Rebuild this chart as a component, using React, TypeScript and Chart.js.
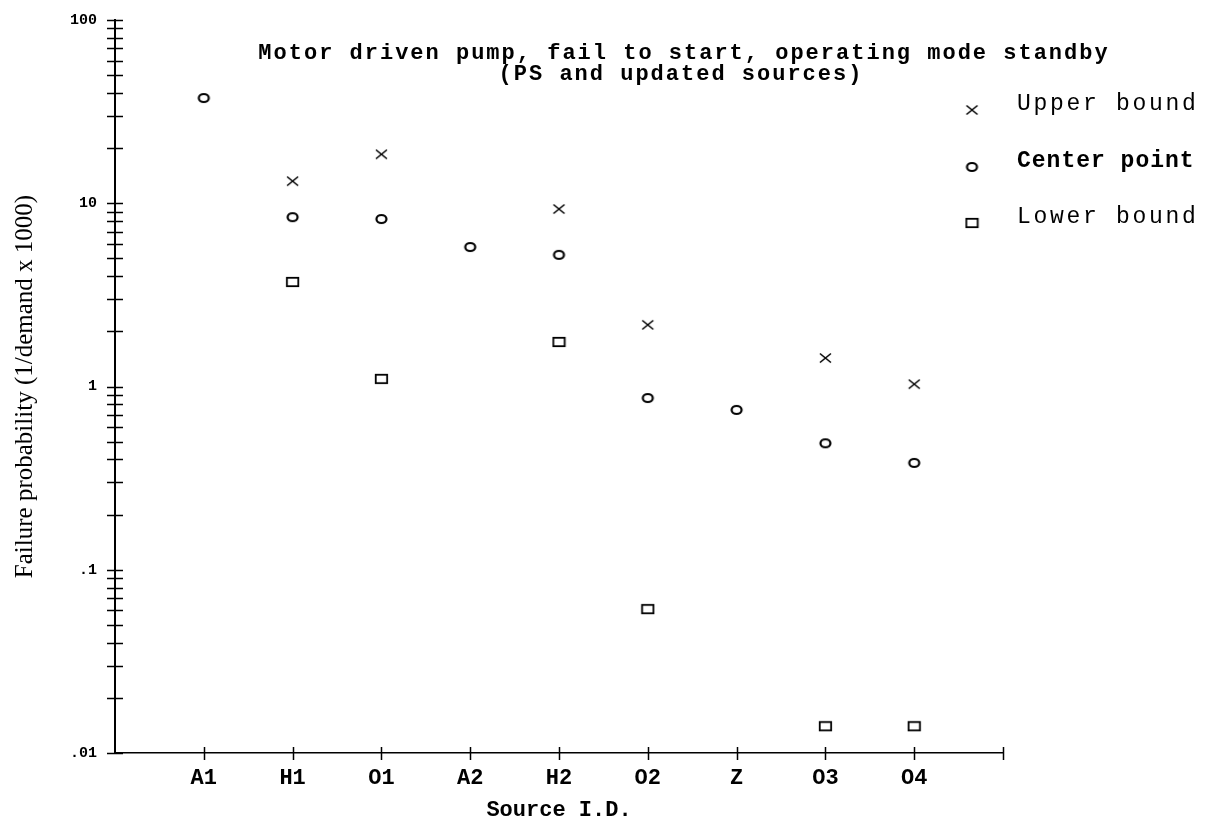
import React, { useEffect, useRef } from 'react';
import { Chart, registerables } from 'chart.js';

Chart.register(...registerables);

// ---- data ----
const categories = ['A1', 'H1', 'O1', 'A2', 'H2', 'O2', 'Z', 'O3', 'O4'];
const upperBound: (number | null)[] = [null, 13.2, 18.5, null, 9.3, 2.17, null, 1.43, 1.03];
const centerPoint: (number | null)[] = [37.5, 8.4, 8.2, 5.77, 5.23, 0.865, 0.745, 0.49, 0.383];
const lowerBound: (number | null)[] = [null, 3.72, 1.1, null, 1.75, 0.061, null, 0.014, 0.014];
const yMajorLabels = ['.01', '.1', '1', '10', '100'];
const seriesLabels = ['Upper bound', 'Center point', 'Lower bound'];
const titleLines = [
  'Motor driven pump, fail to start, operating mode standby',
  '(PS and updated sources)',
];
const yAxisTitle = 'Failure probability (1/demand x 1000)';
const xAxisTitle = 'Source I.D.';

const MONO = '"Liberation Mono", "DejaVu Sans Mono", monospace';
const SERIF = '"Liberation Serif", "DejaVu Serif", serif';

function toPoints(values: (number | null)[]) {
  return values
    .map((v, i) => ({ x: i + 1, y: v }))
    .filter((p) => p.y !== null) as { x: number; y: number }[];
}

function makeMarker(kind: string): HTMLCanvasElement {
  const c = document.createElement('canvas');
  c.width = 15;
  c.height = 12;
  const g = c.getContext('2d')!;
  g.strokeStyle = '#000';
  if (kind === 'cross') {
    g.lineWidth = 1.6;
    g.beginPath();
    g.moveTo(2, 1.5);
    g.lineTo(13, 10.5);
    g.moveTo(13, 1.5);
    g.lineTo(2, 10.5);
    g.stroke();
  } else if (kind === 'circle') {
    g.lineWidth = 2.2;
    g.beginPath();
    g.ellipse(7.5, 6, 5, 4, 0, 0, Math.PI * 2);
    g.stroke();
  } else {
    g.lineWidth = 1.8;
    g.strokeRect(1.8, 1.8, 11.4, 8.4);
  }
  return c;
}

export default function App() {
  const canvasRef = useRef<HTMLCanvasElement | null>(null);

  useEffect(() => {
    if (!canvasRef.current) return;
    const markers = [makeMarker('cross'), makeMarker('circle'), makeMarker('rect')];

    const crossTicks = {
      id: 'crossTicks',
      afterDraw(chart: any) {
        const { ctx, chartArea } = chart;
        const ys = chart.scales.y;
        const xs = chart.scales.x;
        ctx.save();
        ctx.strokeStyle = '#000';
        ctx.lineWidth = 1.5;
        ctx.beginPath();
        ys.ticks.forEach((t: any) => {
          const py = Math.round(ys.getPixelForValue(t.value)) + 0.5;
          ctx.moveTo(chartArea.left - 8, py);
          ctx.lineTo(chartArea.left + 8, py);
        });
        xs.ticks.forEach((t: any) => {
          const px = Math.round(xs.getPixelForValue(t.value)) + 0.5;
          ctx.moveTo(px, chartArea.bottom - 6);
          ctx.lineTo(px, chartArea.bottom + 7);
        });
        ctx.stroke();
        ctx.restore();
      },
    };

    const titlePlugin = {
      id: 'insideTitle',
      afterDraw(chart: any) {
        const { ctx } = chart;
        ctx.save();
        ctx.fillStyle = '#000';
        ctx.font = `bold 22px ${MONO}`;
        (ctx as any).letterSpacing = '2px';
        ctx.textAlign = 'center';
        ctx.textBaseline = 'alphabetic';
        ctx.fillText(titleLines[0], 684, 59);
        ctx.fillText(titleLines[1], 681, 80);
        ctx.restore();
      },
    };

    const legendPlugin = {
      id: 'sideLegend',
      afterDraw(chart: any) {
        const { ctx } = chart;
        ctx.save();
        ctx.fillStyle = '#000';
        ctx.textAlign = 'left';
        ctx.textBaseline = 'alphabetic';
        const baselines = [110, 167, 223];
        chart.data.datasets.forEach((ds: any, i: number) => {
          const y = baselines[i];
          const m = markers[i];
          ctx.drawImage(m, 972 - m.width / 2, y - m.height / 2);
          ctx.font = `${i === 1 ? 'bold ' : ''}23px ${MONO}`;
          (ctx as any).letterSpacing = i === 1 ? '1px' : '2.7px';
          ctx.fillText(ds.label, 1017, y);
        });
        ctx.restore();
      },
    };

    const chart = new Chart(canvasRef.current, {
      type: 'scatter',
      data: {
        datasets: [
          {
            label: seriesLabels[0],
            data: toPoints(upperBound),
            pointStyle: markers[0] as any,
            borderColor: '#000',
            backgroundColor: 'rgba(0,0,0,0)',
          },
          {
            label: seriesLabels[1],
            data: toPoints(centerPoint),
            pointStyle: markers[1] as any,
            borderColor: '#000',
            backgroundColor: 'rgba(0,0,0,0)',
          },
          {
            label: seriesLabels[2],
            data: toPoints(lowerBound),
            pointStyle: markers[2] as any,
            borderColor: '#000',
            backgroundColor: 'rgba(0,0,0,0)',
          },
        ],
      },
      options: {
        animation: false,
        responsive: true,
        maintainAspectRatio: false,
        layout: { padding: { top: 20, right: 205, left: 0, bottom: 0 } },
        plugins: {
          legend: { display: false },
          title: { display: false },
          tooltip: { enabled: false },
        },
        scales: {
          x: {
            type: 'linear',
            min: 0,
            max: 10,
            afterFit(scale: any) {
              scale.height = 71;
              scale.paddingLeft = 0;
              scale.paddingRight = 0;
            },
            afterBuildTicks(scale: any) {
              scale.ticks = [1, 2, 3, 4, 5, 6, 7, 8, 9, 10].map((v) => ({ value: v }));
            },
            grid: { display: false, drawTicks: false },
            border: { display: true, color: '#000', width: 1.5 },
            ticks: {
              autoSkip: false,
              maxRotation: 0,
              padding: 12,
              color: '#000',
              font: { family: MONO, size: 22, weight: 'bold' },
              callback: (v: any) => categories[Number(v) - 1] ?? '',
            },
            title: {
              display: true,
              text: xAxisTitle,
              color: '#000',
              font: { family: MONO, size: 22, weight: 'bold' },
              padding: { top: 0, bottom: 0 },
            },
          },
          y: {
            type: 'logarithmic',
            min: 0.01,
            max: 100,
            afterFit(scale: any) {
              scale.width = 115;
              scale.paddingTop = 0;
              scale.paddingBottom = 0;
            },
            afterBuildTicks(scale: any) {
              const vals: number[] = [];
              for (let e = -2; e <= 1; e++) {
                for (let m = 1; m <= 9; m++) vals.push(Number((m * Math.pow(10, e)).toPrecision(3)));
              }
              vals.push(100);
              scale.ticks = vals.map((v) => ({ value: v }));
            },
            grid: { display: false, drawTicks: false },
            border: { display: true, color: '#000', width: 2 },
            ticks: {
              autoSkip: false,
              padding: 18,
              color: '#000',
              font: { family: MONO, size: 15, weight: 'bold' },
              callback: (v: any) => {
                const l = Math.log10(Number(v));
                if (Math.abs(l - Math.round(l)) < 1e-6) return yMajorLabels[Math.round(l) + 2] ?? '';
                return '';
              },
            },
            title: {
              display: true,
              text: yAxisTitle,
              color: '#000',
              font: { family: SERIF, size: 25 },
              padding: { top: 10, bottom: 0 },
            },
          },
        },
      },
      plugins: [crossTicks, titlePlugin, legendPlugin],
    });

    return () => chart.destroy();
  }, []);

  return (
    <div style={{ position: 'fixed', left: 0, top: 0, width: 1208, height: 824, background: '#fff' }}>
      <canvas ref={canvasRef} />
    </div>
  );
}
